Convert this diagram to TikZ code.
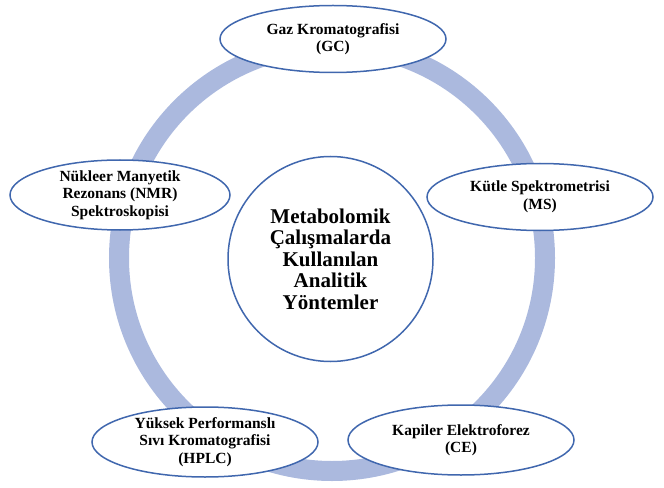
\documentclass[tikz,border=0pt]{standalone}
\usepackage{fontspec}
\setmainfont{Liberation Serif}
\usetikzlibrary{shapes.geometric}
\definecolor{ringblue}{HTML}{ABB9DE}
\definecolor{edgeblue}{HTML}{4067AE}
\tikzset{
  method/.style={ellipse, draw=edgeblue, line width=1.5bp, fill=white, inner sep=0pt,
    minimum width=226bp, minimum height=67bp, align=center,
    font=\fontsize{15.5bp}{17.5bp}\selectfont\bfseries},
  hub/.style={circle, draw=edgeblue, line width=1.5bp, fill=white, inner sep=0pt,
    minimum size=205bp, align=center,
    font=\fontsize{21bp}{21.5bp}\selectfont\bfseries},
  ringstyle/.style={draw=ringblue, line width=20bp}
}
\begin{document}
\begin{tikzpicture}[x=1bp,y=-1bp]
\useasboundingbox (0,0) rectangle (664,488);
\coordinate (c) at (332,258);
\draw[ringstyle] (c) circle[radius=213bp];
\node[hub] (hubnode) at (330.5,259) {Metabolomik\\Çalışmalarda\\Kullanılan\\Analitik\\Yöntemler};
\node[method] (gc) at (333,39) {Gaz Kromatografisi\\(GC)};
\node[method] (ms) at (540,197) {Kütle Spektrometrisi\\(MS)};
\node[method, minimum height=70bp] (ce) at (461,440) {Kapiler Elektroforez\\(CE)};
\node[method, minimum height=70bp] (hplc) at (205,442) {Yüksek Performanslı\\Sıvı Kromatografisi\\(HPLC)};
\node[method, minimum width=220bp, minimum height=70bp] (nmr) at (120,195) {Nükleer Manyetik\\Rezonans (NMR)\\Spektroskopisi};
\end{tikzpicture}
\end{document}
